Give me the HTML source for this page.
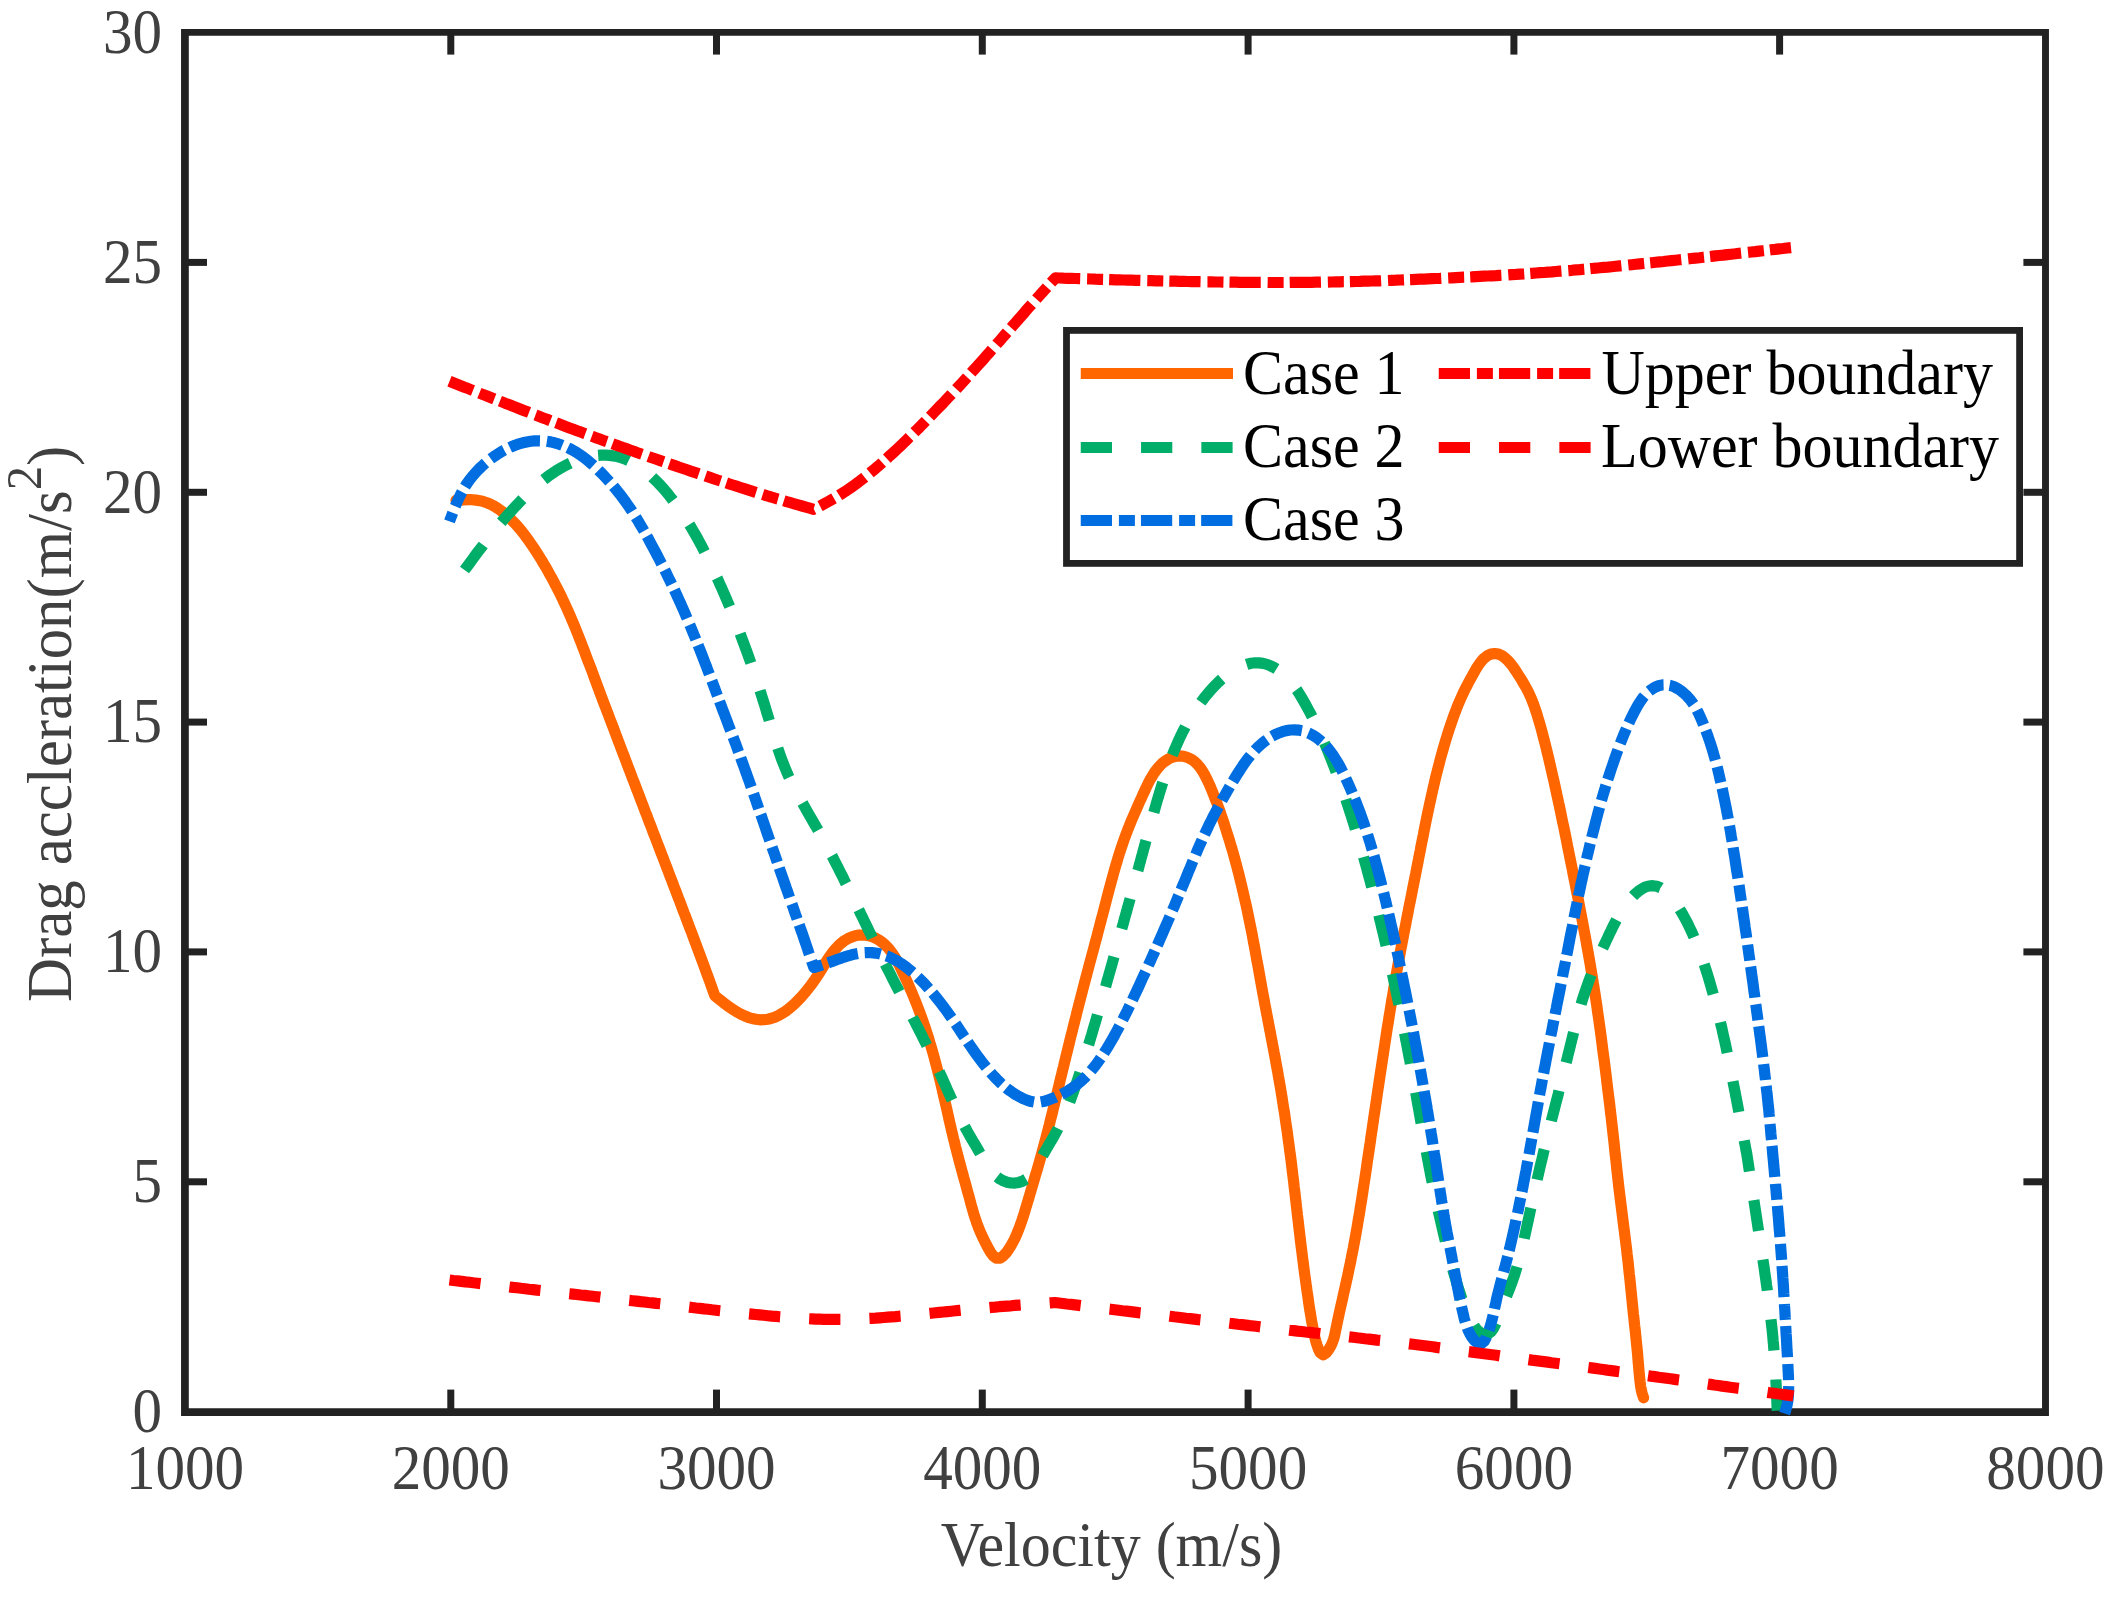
<!DOCTYPE html>
<html lang="en"><head><meta charset="utf-8"><title>Drag acceleration vs velocity</title>
<style>html,body{margin:0;padding:0;background:#fff;}body{width:2120px;height:1603px;overflow:hidden;}</style>
</head><body>
<svg xmlns="http://www.w3.org/2000/svg" width="2120" height="1603" viewBox="0 0 2120 1603" style="display:block">
<rect width="2120" height="1603" fill="#fff"/>
<g stroke="#222222" stroke-width="7" fill="none" stroke-linecap="butt">
<path d="M181.05 29.05H2048.95V1415.9H181.05ZM188.8 35.85V1408.2H2042.05V35.85Z" fill="#222222" fill-rule="evenodd" stroke="none"/>
<line x1="450.8" y1="1411.6" x2="450.8" y2="1389.6"/>
<line x1="450.8" y1="32.6" x2="450.8" y2="54.6"/>
<line x1="716.5" y1="1411.6" x2="716.5" y2="1389.6"/>
<line x1="716.5" y1="32.6" x2="716.5" y2="54.6"/>
<line x1="982.3" y1="1411.6" x2="982.3" y2="1389.6"/>
<line x1="982.3" y1="32.6" x2="982.3" y2="54.6"/>
<line x1="1248.1" y1="1411.6" x2="1248.1" y2="1389.6"/>
<line x1="1248.1" y1="32.6" x2="1248.1" y2="54.6"/>
<line x1="1513.9" y1="1411.6" x2="1513.9" y2="1389.6"/>
<line x1="1513.9" y1="32.6" x2="1513.9" y2="54.6"/>
<line x1="1779.6" y1="1411.6" x2="1779.6" y2="1389.6"/>
<line x1="1779.6" y1="32.6" x2="1779.6" y2="54.6"/>
<line x1="185.0" y1="1181.8" x2="207.0" y2="1181.8"/>
<line x1="2045.4" y1="1181.8" x2="2023.4" y2="1181.8"/>
<line x1="185.0" y1="951.9" x2="207.0" y2="951.9"/>
<line x1="2045.4" y1="951.9" x2="2023.4" y2="951.9"/>
<line x1="185.0" y1="722.1" x2="207.0" y2="722.1"/>
<line x1="2045.4" y1="722.1" x2="2023.4" y2="722.1"/>
<line x1="185.0" y1="492.3" x2="207.0" y2="492.3"/>
<line x1="2045.4" y1="492.3" x2="2023.4" y2="492.3"/>
<line x1="185.0" y1="262.4" x2="207.0" y2="262.4"/>
<line x1="2045.4" y1="262.4" x2="2023.4" y2="262.4"/>
</g>
<g fill="none" stroke-width="11.2" stroke-linejoin="round">
<path d="M456.0 500.4L460.0 500.1L464.0 499.8L468.0 499.6L472.0 499.7L476.0 500.1L479.9 500.7L483.8 501.7L487.6 503.0L491.3 504.6L494.8 506.5L498.2 508.7L501.4 511.0L504.6 513.5L507.6 516.2L510.5 518.9L513.3 521.7L516.1 524.6L518.7 527.7L521.3 530.7L523.8 533.9L526.2 537.1L528.5 540.3L530.8 543.6L533.1 546.9L535.3 550.3L537.4 553.6L539.6 557.0L541.7 560.4L543.7 563.9L545.8 567.3L547.8 570.8L549.7 574.3L551.7 577.8L553.6 581.3L555.4 584.9L557.3 588.4L559.1 592.0L560.9 595.6L562.6 599.2L564.3 602.8L566.0 606.5L567.6 610.1L569.3 613.8L570.9 617.5L572.4 621.1L574.0 624.8L575.5 628.5L577.0 632.3L578.5 636.0L579.9 639.7L581.4 643.4L582.8 647.2L584.3 650.9L585.7 654.7L587.1 658.4L588.5 662.2L590.0 665.9L591.4 669.6L592.8 673.4L594.2 677.2L595.6 680.9L597.0 684.7L598.4 688.4L599.8 692.2L601.2 695.9L602.6 699.7L604.0 703.4L605.5 707.2L606.9 710.9L608.3 714.6L609.7 718.4L611.1 722.1L612.6 725.9L614.0 729.6L615.4 733.4L616.8 737.1L618.2 740.9L619.7 744.6L621.1 748.4L622.5 752.1L624.0 755.8L625.4 759.6L626.8 763.3L628.2 767.1L629.7 770.8L631.1 774.6L632.5 778.3L634.0 782.0L635.4 785.8L636.8 789.5L638.3 793.3L639.7 797.0L641.1 800.7L642.6 804.5L644.0 808.2L645.4 812.0L646.9 815.7L648.3 819.4L649.7 823.2L651.2 826.9L652.6 830.7L654.0 834.4L655.5 838.1L656.9 841.9L658.3 845.6L659.8 849.4L661.2 853.1L662.7 856.8L664.1 860.6L665.5 864.3L667.0 868.1L668.4 871.8L669.8 875.6L671.3 879.3L672.7 883.0L674.1 886.8L675.6 890.5L677.0 894.3L678.4 898.0L679.9 901.7L681.3 905.5L682.7 909.2L684.1 913.0L685.6 916.7L687.0 920.5L688.4 924.2L689.8 927.9L691.3 931.7L692.7 935.4L694.1 939.2L695.5 942.9L696.9 946.7L698.3 950.4L699.7 954.2L701.1 958.0L702.5 961.7L703.9 965.5L705.2 969.2L706.6 973.0L708.0 976.8L709.4 980.5L710.7 984.3L712.1 988.1L713.4 991.8L714.8 995.6L717.9 998.2L721.0 1000.7L724.1 1003.2L727.3 1005.6L730.6 1007.9L733.9 1010.1L737.3 1012.2L740.8 1014.1L744.4 1015.8L748.1 1017.3L752.0 1018.5L755.9 1019.3L759.8 1019.8L763.8 1019.7L767.8 1019.2L771.7 1018.3L775.5 1016.9L779.1 1015.2L782.5 1013.2L785.9 1011.0L789.0 1008.6L792.1 1006.0L795.1 1003.3L797.9 1000.5L800.7 997.6L803.3 994.6L805.9 991.6L808.4 988.4L810.9 985.3L813.2 982.0L815.5 978.8L817.7 975.4L819.9 972.1L822.0 968.7L824.1 965.2L826.2 961.8L828.3 958.5L830.6 955.2L833.0 951.9L835.5 948.9L838.2 945.9L841.2 943.2L844.3 940.8L847.8 938.7L851.4 937.1L855.2 935.8L859.1 935.1L863.1 935.0L867.1 935.4L871.0 936.3L874.7 937.7L878.3 939.6L881.6 941.9L884.6 944.4L887.5 947.2L890.1 950.3L892.5 953.5L894.7 956.8L896.7 960.3L898.6 963.8L900.4 967.4L902.1 971.0L903.8 974.6L905.5 978.2L907.2 981.9L908.8 985.5L910.4 989.2L912.0 992.8L913.5 996.5L915.0 1000.2L916.5 1003.9L918.0 1007.7L919.4 1011.4L920.8 1015.2L922.1 1018.9L923.5 1022.7L924.8 1026.5L926.0 1030.3L927.2 1034.1L928.5 1037.9L929.6 1041.7L930.8 1045.6L931.9 1049.4L933.0 1053.2L934.1 1057.1L935.1 1061.0L936.1 1064.8L937.1 1068.7L938.1 1072.6L939.1 1076.5L940.1 1080.3L941.0 1084.2L941.9 1088.1L942.8 1092.0L943.7 1095.9L944.6 1099.8L945.5 1103.7L946.4 1107.6L947.3 1111.5L948.2 1115.4L949.0 1119.3L949.9 1123.2L950.8 1127.1L951.7 1131.0L952.7 1134.9L953.6 1138.8L954.6 1142.7L955.5 1146.6L956.5 1150.4L957.5 1154.3L958.5 1158.2L959.5 1162.0L960.6 1165.9L961.6 1169.8L962.7 1173.6L963.7 1177.5L964.8 1181.3L965.9 1185.2L966.9 1189.0L968.0 1192.9L969.1 1196.8L970.1 1200.6L971.1 1204.5L972.2 1208.3L973.3 1212.2L974.4 1216.0L975.7 1219.8L977.0 1223.6L978.4 1227.4L979.9 1231.1L981.5 1234.7L983.2 1238.3L985.0 1241.9L986.8 1245.5L988.7 1249.0L990.7 1252.5L993.1 1255.7L996.2 1258.1L1000.1 1258.1L1003.4 1255.8L1006.1 1252.9L1008.4 1249.7L1010.6 1246.3L1012.5 1242.8L1014.4 1239.3L1016.1 1235.6L1017.6 1232.0L1019.1 1228.2L1020.5 1224.5L1021.8 1220.7L1023.1 1216.9L1024.3 1213.1L1025.4 1209.3L1026.6 1205.4L1027.7 1201.6L1028.9 1197.8L1030.0 1193.9L1031.1 1190.1L1032.3 1186.3L1033.4 1182.4L1034.5 1178.6L1035.6 1174.7L1036.8 1170.9L1037.9 1167.1L1039.0 1163.2L1040.1 1159.4L1041.2 1155.5L1042.2 1151.7L1043.3 1147.8L1044.3 1144.0L1045.4 1140.1L1046.4 1136.2L1047.4 1132.3L1048.4 1128.5L1049.4 1124.6L1050.3 1120.7L1051.3 1116.8L1052.3 1113.0L1053.2 1109.1L1054.2 1105.2L1055.1 1101.3L1056.1 1097.4L1057.0 1093.5L1057.9 1089.6L1058.9 1085.7L1059.8 1081.9L1060.7 1078.0L1061.7 1074.1L1062.6 1070.2L1063.6 1066.3L1064.5 1062.4L1065.5 1058.5L1066.4 1054.6L1067.4 1050.8L1068.3 1046.9L1069.3 1043.0L1070.2 1039.1L1071.2 1035.2L1072.2 1031.3L1073.1 1027.5L1074.1 1023.6L1075.1 1019.7L1076.1 1015.8L1077.0 1011.9L1078.0 1008.1L1079.0 1004.2L1080.0 1000.3L1081.0 996.4L1082.0 992.6L1083.0 988.7L1084.0 984.8L1085.0 981.0L1086.1 977.1L1087.1 973.2L1088.1 969.4L1089.1 965.5L1090.2 961.6L1091.2 957.8L1092.2 953.9L1093.3 950.0L1094.3 946.2L1095.3 942.3L1096.4 938.4L1097.4 934.6L1098.4 930.7L1099.4 926.8L1100.4 923.0L1101.4 919.1L1102.5 915.2L1103.5 911.4L1104.5 907.5L1105.5 903.6L1106.5 899.7L1107.5 895.9L1108.5 892.0L1109.5 888.1L1110.6 884.3L1111.6 880.4L1112.7 876.6L1113.7 872.7L1114.8 868.9L1115.9 865.0L1117.1 861.2L1118.2 857.3L1119.4 853.5L1120.6 849.7L1121.9 845.9L1123.2 842.1L1124.5 838.4L1125.9 834.6L1127.3 830.9L1128.8 827.2L1130.3 823.4L1131.8 819.7L1133.4 816.1L1135.0 812.4L1136.6 808.7L1138.2 805.1L1139.8 801.4L1141.5 797.8L1143.1 794.1L1144.8 790.5L1146.5 786.9L1148.2 783.3L1150.1 779.7L1152.1 776.3L1154.2 772.9L1156.6 769.6L1159.1 766.6L1161.9 763.7L1165.0 761.2L1168.4 759.0L1172.0 757.3L1175.9 756.3L1179.8 755.9L1183.8 756.3L1187.6 757.5L1191.2 759.2L1194.5 761.5L1197.4 764.3L1200.0 767.3L1202.2 770.6L1204.3 774.1L1206.1 777.6L1207.9 781.2L1209.5 784.8L1211.1 788.5L1212.6 792.2L1214.1 796.0L1215.5 799.7L1217.0 803.4L1218.4 807.2L1219.8 810.9L1221.1 814.7L1222.4 818.5L1223.7 822.3L1224.9 826.1L1226.1 829.9L1227.3 833.7L1228.5 837.5L1229.7 841.3L1230.8 845.2L1232.0 849.0L1233.1 852.8L1234.2 856.7L1235.2 860.5L1236.3 864.4L1237.3 868.3L1238.3 872.1L1239.3 876.0L1240.2 879.9L1241.2 883.8L1242.1 887.7L1243.0 891.6L1243.9 895.5L1244.8 899.4L1245.7 903.3L1246.6 907.2L1247.4 911.1L1248.2 915.0L1249.0 918.9L1249.8 922.8L1250.6 926.8L1251.4 930.7L1252.2 934.6L1252.9 938.5L1253.6 942.5L1254.4 946.4L1255.1 950.3L1255.8 954.3L1256.5 958.2L1257.2 962.2L1258.0 966.1L1258.7 970.0L1259.4 974.0L1260.1 977.9L1260.8 981.8L1261.5 985.8L1262.2 989.7L1262.9 993.6L1263.7 997.6L1264.4 1001.5L1265.1 1005.4L1265.9 1009.4L1266.6 1013.3L1267.4 1017.2L1268.1 1021.2L1268.9 1025.1L1269.6 1029.0L1270.4 1032.9L1271.1 1036.9L1271.9 1040.8L1272.6 1044.7L1273.4 1048.7L1274.1 1052.6L1274.9 1056.5L1275.6 1060.5L1276.3 1064.4L1277.0 1068.3L1277.8 1072.3L1278.4 1076.2L1279.1 1080.1L1279.8 1084.1L1280.5 1088.0L1281.1 1092.0L1281.8 1095.9L1282.4 1099.9L1283.0 1103.8L1283.6 1107.8L1284.3 1111.7L1284.9 1115.7L1285.4 1119.6L1286.0 1123.6L1286.6 1127.6L1287.2 1131.5L1287.7 1135.5L1288.2 1139.4L1288.8 1143.4L1289.3 1147.4L1289.8 1151.3L1290.4 1155.3L1290.9 1159.3L1291.4 1163.2L1291.9 1167.2L1292.3 1171.2L1292.8 1175.1L1293.3 1179.1L1293.8 1183.1L1294.2 1187.1L1294.7 1191.0L1295.2 1195.0L1295.6 1199.0L1296.1 1203.0L1296.5 1206.9L1297.0 1210.9L1297.4 1214.9L1297.9 1218.9L1298.4 1222.8L1298.8 1226.8L1299.3 1230.8L1299.8 1234.7L1300.2 1238.7L1300.7 1242.7L1301.2 1246.7L1301.7 1250.6L1302.2 1254.6L1302.7 1258.6L1303.2 1262.5L1303.7 1266.5L1304.2 1270.5L1304.7 1274.4L1305.3 1278.4L1305.8 1282.4L1306.4 1286.3L1306.9 1290.3L1307.5 1294.2L1308.1 1298.2L1308.6 1302.2L1309.2 1306.1L1309.8 1310.1L1310.5 1314.0L1311.1 1318.0L1311.8 1321.9L1312.5 1325.8L1313.2 1329.8L1314.0 1333.7L1314.9 1337.6L1315.9 1341.5L1317.1 1345.3L1318.4 1349.1L1320.1 1352.7L1323.2 1354.8L1326.4 1352.6L1328.8 1349.4L1330.9 1345.9L1332.5 1342.3L1333.8 1338.5L1334.8 1334.6L1335.6 1330.7L1336.4 1326.8L1337.2 1322.9L1338.0 1319.0L1338.9 1315.1L1339.7 1311.2L1340.6 1307.3L1341.5 1303.3L1342.4 1299.4L1343.2 1295.6L1344.1 1291.6L1345.0 1287.7L1345.9 1283.8L1346.7 1279.9L1347.6 1276.0L1348.4 1272.1L1349.2 1268.2L1350.1 1264.3L1350.9 1260.4L1351.6 1256.4L1352.4 1252.5L1353.2 1248.6L1353.9 1244.7L1354.7 1240.7L1355.4 1236.8L1356.1 1232.9L1356.8 1228.9L1357.5 1225.0L1358.1 1221.0L1358.8 1217.1L1359.5 1213.1L1360.1 1209.2L1360.7 1205.2L1361.4 1201.3L1362.0 1197.3L1362.6 1193.4L1363.2 1189.4L1363.8 1185.5L1364.4 1181.5L1365.0 1177.6L1365.6 1173.6L1366.2 1169.7L1366.8 1165.7L1367.3 1161.7L1367.9 1157.8L1368.5 1153.8L1369.1 1149.9L1369.7 1145.9L1370.3 1142.0L1370.8 1138.0L1371.4 1134.0L1372.0 1130.1L1372.6 1126.1L1373.2 1122.2L1373.7 1118.2L1374.3 1114.3L1374.9 1110.3L1375.5 1106.3L1376.1 1102.4L1376.7 1098.4L1377.2 1094.5L1377.8 1090.5L1378.4 1086.6L1379.0 1082.6L1379.6 1078.6L1380.2 1074.7L1380.8 1070.7L1381.4 1066.8L1382.0 1062.8L1382.6 1058.9L1383.2 1054.9L1383.8 1051.0L1384.4 1047.0L1385.0 1043.0L1385.6 1039.1L1386.2 1035.1L1386.8 1031.2L1387.4 1027.2L1388.1 1023.3L1388.7 1019.3L1389.3 1015.4L1390.0 1011.4L1390.6 1007.5L1391.3 1003.5L1391.9 999.6L1392.6 995.7L1393.3 991.7L1393.9 987.8L1394.6 983.8L1395.3 979.9L1396.0 975.9L1396.7 972.0L1397.4 968.1L1398.1 964.1L1398.8 960.2L1399.6 956.3L1400.3 952.3L1401.0 948.4L1401.8 944.5L1402.5 940.5L1403.3 936.6L1404.0 932.7L1404.8 928.8L1405.6 924.8L1406.3 920.9L1407.1 917.0L1407.9 913.1L1408.6 909.1L1409.4 905.2L1410.2 901.3L1411.0 897.4L1411.8 893.4L1412.5 889.5L1413.3 885.6L1414.1 881.7L1414.9 877.7L1415.7 873.8L1416.4 869.9L1417.2 866.0L1418.0 862.1L1418.7 858.1L1419.5 854.2L1420.3 850.3L1421.0 846.3L1421.8 842.4L1422.6 838.5L1423.4 834.6L1424.1 830.7L1424.9 826.7L1425.7 822.8L1426.5 818.9L1427.3 815.0L1428.1 811.1L1429.0 807.1L1429.8 803.2L1430.7 799.3L1431.5 795.4L1432.4 791.5L1433.3 787.6L1434.2 783.7L1435.1 779.8L1436.0 775.9L1437.0 772.1L1438.0 768.2L1439.0 764.3L1440.0 760.4L1441.0 756.6L1442.1 752.7L1443.2 748.9L1444.3 745.0L1445.4 741.2L1446.6 737.4L1447.8 733.5L1449.0 729.7L1450.3 725.9L1451.6 722.1L1452.9 718.4L1454.2 714.6L1455.7 710.9L1457.1 707.1L1458.6 703.4L1460.2 699.8L1461.8 696.1L1463.5 692.5L1465.2 688.9L1467.1 685.3L1468.9 681.8L1470.8 678.3L1472.8 674.8L1474.7 671.3L1476.7 667.8L1478.9 664.5L1481.3 661.3L1484.0 658.3L1487.2 655.8L1490.8 654.1L1494.7 653.5L1498.6 654.1L1502.2 655.8L1505.4 658.2L1508.3 661.0L1510.9 664.0L1513.3 667.2L1515.6 670.5L1517.7 673.9L1519.9 677.3L1522.0 680.6L1524.0 684.1L1526.0 687.5L1527.9 691.1L1529.6 694.7L1531.2 698.3L1532.7 702.1L1534.1 705.8L1535.4 709.6L1536.7 713.4L1537.8 717.2L1539.0 721.1L1540.1 724.9L1541.2 728.7L1542.2 732.6L1543.2 736.5L1544.2 740.3L1545.2 744.2L1546.2 748.1L1547.1 752.0L1548.1 755.9L1549.0 759.8L1549.9 763.7L1550.8 767.6L1551.7 771.5L1552.6 775.4L1553.5 779.3L1554.4 783.2L1555.2 787.1L1556.1 791.0L1556.9 794.9L1557.8 798.8L1558.6 802.7L1559.5 806.6L1560.3 810.5L1561.1 814.4L1561.9 818.4L1562.7 822.3L1563.6 826.2L1564.4 830.1L1565.2 834.0L1566.0 838.0L1566.8 841.9L1567.5 845.8L1568.3 849.7L1569.1 853.6L1569.9 857.6L1570.7 861.5L1571.5 865.4L1572.3 869.3L1573.0 873.2L1573.8 877.2L1574.6 881.1L1575.4 885.0L1576.1 888.9L1576.9 892.9L1577.7 896.8L1578.5 900.7L1579.2 904.6L1580.0 908.6L1580.7 912.5L1581.5 916.4L1582.2 920.4L1583.0 924.3L1583.7 928.2L1584.4 932.2L1585.2 936.1L1585.9 940.0L1586.6 944.0L1587.3 947.9L1588.0 951.8L1588.7 955.8L1589.4 959.7L1590.1 963.7L1590.7 967.6L1591.4 971.5L1592.0 975.5L1592.7 979.4L1593.3 983.4L1594.0 987.3L1594.6 991.3L1595.2 995.2L1595.8 999.2L1596.4 1003.2L1597.0 1007.1L1597.5 1011.1L1598.1 1015.0L1598.7 1019.0L1599.2 1022.9L1599.8 1026.9L1600.3 1030.9L1600.9 1034.8L1601.4 1038.8L1601.9 1042.8L1602.4 1046.7L1602.9 1050.7L1603.4 1054.7L1604.0 1058.6L1604.5 1062.6L1605.0 1066.6L1605.5 1070.5L1606.0 1074.5L1606.5 1078.5L1606.9 1082.5L1607.4 1086.4L1607.9 1090.4L1608.4 1094.4L1608.9 1098.3L1609.4 1102.3L1609.9 1106.3L1610.3 1110.3L1610.8 1114.3L1611.3 1118.3L1611.7 1122.3L1612.2 1126.3L1612.6 1130.3L1613.1 1134.3L1613.5 1138.3L1614.0 1142.3L1614.4 1146.3L1614.8 1150.3L1615.2 1154.3L1615.7 1158.3L1616.1 1162.3L1616.5 1166.3L1616.9 1170.3L1617.4 1174.3L1617.8 1178.3L1618.3 1182.3L1618.7 1186.2L1619.2 1190.2L1619.7 1194.2L1620.2 1198.2L1620.7 1202.2L1621.2 1206.2L1621.7 1210.2L1622.2 1214.2L1622.7 1218.2L1623.2 1222.2L1623.7 1226.2L1624.2 1230.1L1624.7 1234.1L1625.2 1238.1L1625.7 1242.1L1626.2 1246.1L1626.7 1250.1L1627.1 1254.1L1627.6 1258.1L1628.1 1262.1L1628.5 1266.1L1628.9 1270.1L1629.3 1274.1L1629.8 1278.1L1630.2 1282.1L1630.6 1286.1L1631.0 1290.1L1631.4 1294.1L1631.8 1298.1L1632.2 1302.1L1632.6 1306.1L1633.0 1310.1L1633.4 1314.1L1633.9 1318.1L1634.3 1322.1L1634.7 1326.1L1635.2 1330.1L1635.6 1334.1L1636.0 1338.1L1636.4 1342.1L1636.8 1346.1L1637.2 1350.1L1637.6 1354.1L1637.9 1358.1L1638.2 1362.1L1638.6 1366.1L1638.9 1370.1L1639.3 1374.1L1639.7 1378.1L1640.1 1382.1L1640.6 1386.1L1641.3 1390.1L1642.3 1394.0L1643.6 1397.8" stroke="#ff6600" stroke-linecap="round"/>
<path d="M464.5 570.0L466.9 566.8L469.3 563.6L471.7 560.4L474.0 557.1L476.4 553.9L478.8 550.7L481.3 547.6L483.7 544.4L486.1 541.2L488.6 538.0L491.0 534.9L493.5 531.7L496.0 528.6L498.6 525.5L501.1 522.4L503.7 519.4L506.3 516.4L509.0 513.4L511.7 510.4L514.4 507.5L517.2 504.6L519.9 501.7L522.7 498.8L525.6 496.0L528.4 493.2L531.3 490.5L534.3 487.8L537.3 485.1L540.3 482.5L543.4 480.0L546.6 477.5L549.8 475.1L553.1 472.8L556.4 470.6L559.8 468.6L563.3 466.6L566.9 464.7L570.5 463.0L574.2 461.4L577.9 460.0L581.7 458.8L585.5 457.7L589.4 456.8L593.4 456.0L597.3 455.5L601.3 455.2L605.3 455.2L609.3 455.4L613.3 455.9L617.2 456.6L621.1 457.7L624.9 459.0L628.5 460.6L632.1 462.4L635.6 464.3L639.0 466.5L642.3 468.8L645.4 471.2L648.5 473.8L651.5 476.4L654.4 479.2L657.3 482.0L660.0 484.9L662.7 487.8L665.4 490.9L667.9 493.9L670.4 497.1L672.9 500.2L675.3 503.4L677.6 506.6L680.0 509.9L682.2 513.2L684.4 516.5L686.6 519.9L688.7 523.3L690.8 526.7L692.8 530.2L694.8 533.6L696.8 537.1L698.7 540.6L700.6 544.2L702.5 547.7L704.3 551.3L706.1 554.8L707.9 558.4L709.6 562.0L711.4 565.6L713.1 569.2L714.8 572.9L716.4 576.5L718.1 580.1L719.7 583.8L721.4 587.4L723.0 591.1L724.6 594.8L726.2 598.5L727.7 602.1L729.3 605.8L730.8 609.5L732.3 613.3L733.7 617.0L735.2 620.7L736.7 624.4L738.1 628.2L739.5 631.9L740.9 635.7L742.3 639.4L743.7 643.2L745.1 646.9L746.5 650.7L747.8 654.4L749.2 658.2L750.5 662.0L751.8 665.8L753.1 669.5L754.4 673.3L755.7 677.1L756.9 680.9L758.2 684.7L759.4 688.5L760.6 692.3L761.8 696.2L763.0 700.0L764.2 703.8L765.4 707.6L766.5 711.5L767.7 715.3L768.9 719.1L770.0 723.0L771.1 726.8L772.3 730.6L773.4 734.5L774.6 738.3L775.8 742.1L777.0 745.9L778.3 749.7L779.6 753.5L780.9 757.3L782.3 761.0L783.8 764.8L785.3 768.5L786.8 772.1L788.4 775.8L790.1 779.4L791.9 783.0L793.6 786.6L795.5 790.2L797.4 793.7L799.3 797.2L801.2 800.7L803.2 804.2L805.1 807.7L807.1 811.2L809.1 814.7L811.1 818.1L813.1 821.6L815.1 825.1L817.1 828.5L819.0 832.0L821.0 835.5L822.9 839.0L824.9 842.5L826.8 846.0L828.7 849.6L830.5 853.1L832.4 856.6L834.2 860.2L836.1 863.8L837.9 867.3L839.7 870.9L841.5 874.5L843.3 878.1L845.0 881.6L846.8 885.2L848.6 888.8L850.3 892.4L852.1 896.0L853.9 899.6L855.6 903.2L857.3 906.8L859.1 910.4L860.8 914.0L862.6 917.6L864.3 921.2L866.1 924.8L867.8 928.4L869.5 932.0L871.3 935.6L873.0 939.2L874.8 942.8L876.5 946.4L878.3 950.0L880.0 953.6L881.8 957.2L883.6 960.8L885.4 964.4L887.2 968.0L889.0 971.5L890.8 975.1L892.6 978.7L894.4 982.2L896.2 985.8L898.1 989.4L899.9 992.9L901.7 996.5L903.6 1000.0L905.4 1003.6L907.3 1007.1L909.1 1010.7L911.0 1014.2L912.8 1017.8L914.7 1021.3L916.5 1024.9L918.3 1028.4L920.1 1032.0L921.9 1035.6L923.7 1039.2L925.5 1042.7L927.3 1046.3L929.0 1049.9L930.8 1053.5L932.5 1057.2L934.2 1060.8L935.9 1064.4L937.6 1068.0L939.2 1071.7L940.9 1075.3L942.5 1079.0L944.2 1082.6L945.8 1086.3L947.4 1089.9L949.1 1093.6L950.7 1097.2L952.4 1100.9L954.0 1104.5L955.7 1108.2L957.3 1111.8L959.1 1115.4L960.8 1119.0L962.6 1122.6L964.5 1126.1L966.4 1129.6L968.3 1133.1L970.3 1136.6L972.3 1140.1L974.4 1143.5L976.4 1146.9L978.4 1150.4L980.4 1153.9L982.4 1157.4L984.4 1160.8L986.4 1164.3L988.6 1167.6L991.1 1170.8L993.7 1173.8L996.6 1176.5L999.8 1178.9L1003.3 1180.8L1007.1 1182.2L1011.0 1183.0L1015.0 1183.1L1018.9 1182.4L1022.7 1181.1L1026.2 1179.1L1029.3 1176.6L1032.0 1173.7L1034.4 1170.5L1036.5 1167.1L1038.5 1163.6L1040.4 1160.1L1042.2 1156.5L1044.1 1153.0L1046.1 1149.5L1048.1 1146.1L1050.1 1142.6L1052.2 1139.2L1054.2 1135.7L1056.1 1132.2L1058.0 1128.7L1059.8 1125.1L1061.5 1121.5L1063.2 1117.9L1064.8 1114.2L1066.4 1110.5L1067.8 1106.8L1069.3 1103.1L1070.7 1099.3L1072.1 1095.6L1073.5 1091.8L1074.8 1088.0L1076.1 1084.2L1077.4 1080.4L1078.7 1076.6L1079.9 1072.8L1081.1 1069.0L1082.3 1065.2L1083.5 1061.4L1084.7 1057.6L1085.9 1053.8L1087.1 1049.9L1088.2 1046.1L1089.4 1042.3L1090.5 1038.4L1091.7 1034.6L1092.8 1030.8L1093.9 1026.9L1095.1 1023.1L1096.2 1019.2L1097.3 1015.4L1098.4 1011.6L1099.6 1007.7L1100.7 1003.9L1101.8 1000.0L1102.9 996.2L1104.0 992.3L1105.1 988.5L1106.2 984.6L1107.2 980.8L1108.3 976.9L1109.4 973.1L1110.5 969.2L1111.6 965.4L1112.7 961.5L1113.7 957.7L1114.8 953.8L1115.9 950.0L1117.0 946.1L1118.0 942.2L1119.1 938.4L1120.2 934.5L1121.2 930.7L1122.3 926.8L1123.4 923.0L1124.4 919.1L1125.5 915.2L1126.6 911.4L1127.6 907.5L1128.7 903.7L1129.8 899.8L1130.8 896.0L1131.9 892.1L1133.0 888.2L1134.0 884.4L1135.1 880.5L1136.2 876.7L1137.2 872.8L1138.3 869.0L1139.3 865.1L1140.4 861.2L1141.4 857.4L1142.5 853.5L1143.5 849.6L1144.6 845.8L1145.6 841.9L1146.7 838.1L1147.7 834.2L1148.8 830.3L1149.9 826.5L1150.9 822.6L1152.0 818.8L1153.1 814.9L1154.2 811.1L1155.3 807.2L1156.4 803.4L1157.5 799.5L1158.7 795.7L1159.8 791.9L1161.0 788.0L1162.2 784.2L1163.4 780.4L1164.6 776.6L1165.9 772.8L1167.2 769.0L1168.5 765.3L1169.9 761.5L1171.3 757.8L1172.8 754.0L1174.3 750.3L1175.9 746.6L1177.5 743.0L1179.1 739.3L1180.8 735.7L1182.6 732.1L1184.4 728.6L1186.3 725.0L1188.3 721.6L1190.3 718.1L1192.4 714.7L1194.6 711.3L1196.8 708.0L1199.1 704.7L1201.5 701.5L1203.9 698.3L1206.4 695.2L1209.0 692.1L1211.6 689.1L1214.4 686.2L1217.2 683.3L1220.0 680.6L1223.0 677.9L1226.1 675.4L1229.4 673.0L1232.7 670.8L1236.1 668.8L1239.7 667.0L1243.4 665.4L1247.2 664.2L1251.1 663.3L1255.1 662.8L1259.1 662.9L1263.0 663.4L1266.9 664.4L1270.6 665.9L1274.2 667.6L1277.6 669.7L1280.9 672.1L1283.9 674.7L1286.8 677.4L1289.5 680.4L1292.1 683.5L1294.5 686.7L1296.8 689.9L1299.0 693.3L1301.1 696.7L1303.1 700.1L1305.1 703.6L1307.0 707.1L1308.9 710.6L1310.8 714.2L1312.6 717.7L1314.4 721.3L1316.2 724.9L1317.9 728.5L1319.6 732.1L1321.3 735.8L1322.9 739.4L1324.5 743.1L1326.1 746.8L1327.6 750.5L1329.1 754.2L1330.6 757.9L1332.1 761.6L1333.6 765.3L1335.0 769.1L1336.4 772.8L1337.8 776.6L1339.2 780.3L1340.5 784.1L1341.9 787.9L1343.2 791.6L1344.5 795.4L1345.8 799.2L1347.0 803.0L1348.3 806.8L1349.5 810.6L1350.8 814.4L1352.0 818.2L1353.2 822.1L1354.4 825.9L1355.5 829.7L1356.7 833.5L1357.9 837.4L1359.0 841.2L1360.1 845.0L1361.2 848.9L1362.3 852.7L1363.4 856.6L1364.5 860.4L1365.6 864.3L1366.7 868.1L1367.7 872.0L1368.7 875.9L1369.8 879.7L1370.8 883.6L1371.8 887.5L1372.8 891.3L1373.8 895.2L1374.8 899.1L1375.8 903.0L1376.8 906.9L1377.7 910.7L1378.7 914.6L1379.6 918.5L1380.6 922.4L1381.5 926.3L1382.4 930.2L1383.4 934.1L1384.3 938.0L1385.2 941.9L1386.1 945.8L1387.0 949.7L1387.9 953.6L1388.8 957.5L1389.6 961.4L1390.5 965.3L1391.4 969.2L1392.2 973.1L1393.1 977.0L1393.9 980.9L1394.8 984.8L1395.6 988.8L1396.4 992.7L1397.2 996.6L1398.1 1000.5L1398.9 1004.4L1399.7 1008.3L1400.4 1012.3L1401.2 1016.2L1402.0 1020.1L1402.8 1024.0L1403.6 1028.0L1404.3 1031.9L1405.1 1035.8L1405.8 1039.8L1406.6 1043.7L1407.3 1047.6L1408.1 1051.6L1408.8 1055.5L1409.6 1059.4L1410.3 1063.4L1411.0 1067.3L1411.8 1071.2L1412.5 1075.2L1413.2 1079.1L1414.0 1083.0L1414.7 1087.0L1415.4 1090.9L1416.1 1094.8L1416.8 1098.8L1417.5 1102.7L1418.2 1106.7L1418.9 1110.6L1419.6 1114.5L1420.3 1118.5L1421.0 1122.4L1421.7 1126.4L1422.4 1130.3L1423.1 1134.2L1423.8 1138.2L1424.5 1142.1L1425.3 1146.1L1426.0 1150.0L1426.7 1153.9L1427.4 1157.9L1428.2 1161.8L1428.9 1165.7L1429.7 1169.7L1430.4 1173.6L1431.2 1177.5L1432.0 1181.4L1432.8 1185.3L1433.6 1189.3L1434.4 1193.2L1435.3 1197.1L1436.1 1201.0L1437.0 1204.9L1437.8 1208.8L1438.7 1212.7L1439.6 1216.6L1440.5 1220.5L1441.4 1224.4L1442.3 1228.3L1443.2 1232.2L1444.1 1236.1L1445.1 1240.0L1446.0 1243.9L1447.0 1247.8L1448.0 1251.7L1449.0 1255.5L1450.0 1259.4L1451.1 1263.3L1452.1 1267.1L1453.2 1271.0L1454.3 1274.8L1455.5 1278.7L1456.6 1282.5L1457.8 1286.3L1459.0 1290.1L1460.3 1293.9L1461.5 1297.7L1462.9 1301.5L1464.3 1305.2L1465.7 1309.0L1467.3 1312.6L1469.0 1316.3L1470.8 1319.9L1472.7 1323.4L1474.8 1326.8L1477.2 1330.0L1480.2 1332.6L1483.8 1334.3L1487.7 1334.1L1490.9 1331.8L1493.3 1328.6L1495.2 1325.0L1496.8 1321.4L1498.2 1317.6L1499.5 1313.8L1500.9 1310.1L1502.4 1306.4L1503.9 1302.7L1505.4 1299.0L1506.9 1295.3L1508.4 1291.5L1509.9 1287.8L1511.3 1284.1L1512.7 1280.3L1514.0 1276.5L1515.2 1272.7L1516.4 1268.9L1517.5 1265.1L1518.6 1261.2L1519.7 1257.4L1520.7 1253.5L1521.6 1249.6L1522.5 1245.7L1523.5 1241.8L1524.3 1237.9L1525.2 1234.0L1526.1 1230.1L1526.9 1226.2L1527.8 1222.3L1528.6 1218.4L1529.5 1214.5L1530.3 1210.5L1531.2 1206.6L1532.0 1202.7L1532.9 1198.8L1533.7 1194.9L1534.6 1191.0L1535.5 1187.1L1536.4 1183.2L1537.2 1179.3L1538.1 1175.4L1539.0 1171.5L1539.9 1167.6L1540.8 1163.7L1541.8 1159.8L1542.7 1155.9L1543.6 1152.0L1544.6 1148.1L1545.5 1144.2L1546.5 1140.3L1547.4 1136.5L1548.4 1132.6L1549.4 1128.7L1550.4 1124.8L1551.3 1120.9L1552.3 1117.1L1553.3 1113.2L1554.3 1109.3L1555.3 1105.4L1556.3 1101.5L1557.3 1097.7L1558.3 1093.8L1559.2 1089.9L1560.2 1086.0L1561.2 1082.2L1562.2 1078.3L1563.2 1074.4L1564.2 1070.5L1565.1 1066.6L1566.1 1062.8L1567.1 1058.9L1568.0 1055.0L1569.0 1051.1L1570.0 1047.2L1570.9 1043.3L1571.9 1039.4L1572.8 1035.6L1573.8 1031.7L1574.7 1027.8L1575.7 1023.9L1576.7 1020.0L1577.7 1016.2L1578.8 1012.3L1579.9 1008.5L1581.0 1004.6L1582.1 1000.8L1583.3 997.0L1584.6 993.1L1585.9 989.4L1587.2 985.6L1588.6 981.8L1590.0 978.1L1591.4 974.4L1592.9 970.6L1594.5 966.9L1596.0 963.3L1597.6 959.6L1599.2 955.9L1600.9 952.3L1602.5 948.6L1604.2 945.0L1605.9 941.4L1607.6 937.8L1609.3 934.1L1611.1 930.5L1612.8 926.9L1614.6 923.4L1616.5 919.8L1618.4 916.3L1620.5 912.9L1622.6 909.5L1624.8 906.2L1627.2 903.0L1629.7 899.9L1632.4 896.9L1635.2 894.0L1638.2 891.4L1641.5 889.1L1645.0 887.2L1648.8 886.0L1652.8 885.7L1656.8 886.3L1660.5 887.7L1663.9 889.9L1666.9 892.5L1669.7 895.3L1672.3 898.4L1674.7 901.6L1677.0 904.9L1679.1 908.2L1681.2 911.7L1683.2 915.1L1685.1 918.6L1687.0 922.2L1688.8 925.8L1690.5 929.4L1692.2 933.0L1693.8 936.7L1695.3 940.4L1696.8 944.1L1698.3 947.8L1699.7 951.5L1701.1 955.3L1702.4 959.1L1703.7 962.9L1705.0 966.7L1706.2 970.5L1707.4 974.3L1708.6 978.1L1709.7 981.9L1710.8 985.8L1711.9 989.6L1713.0 993.5L1714.1 997.3L1715.1 1001.2L1716.1 1005.1L1717.1 1009.0L1718.1 1012.8L1719.1 1016.7L1720.0 1020.6L1720.9 1024.5L1721.9 1028.4L1722.7 1032.3L1723.6 1036.2L1724.5 1040.1L1725.4 1044.0L1726.2 1047.9L1727.0 1051.8L1727.8 1055.8L1728.7 1059.7L1729.5 1063.6L1730.2 1067.5L1731.0 1071.4L1731.8 1075.4L1732.6 1079.3L1733.3 1083.2L1734.1 1087.2L1734.9 1091.1L1735.6 1095.0L1736.4 1098.9L1737.1 1102.9L1737.9 1106.8L1738.6 1110.7L1739.4 1114.7L1740.1 1118.6L1740.8 1122.5L1741.6 1126.5L1742.3 1130.4L1743.1 1134.3L1743.8 1138.3L1744.5 1142.2L1745.3 1146.1L1746.0 1150.1L1746.8 1154.0L1747.4 1158.0L1748.0 1161.9L1748.6 1165.9L1749.2 1169.8L1749.8 1173.8L1750.4 1177.8L1751.0 1181.7L1751.6 1185.7L1752.3 1189.6L1752.9 1193.6L1753.5 1197.6L1754.1 1201.5L1754.7 1205.5L1755.3 1209.5L1755.9 1213.4L1756.5 1217.4L1757.1 1221.3L1757.7 1225.3L1758.3 1229.3L1758.9 1233.2L1759.5 1237.2L1760.1 1241.2L1760.7 1245.1L1761.3 1249.1L1761.9 1253.0L1762.5 1257.0L1763.1 1261.0L1763.7 1264.9L1764.3 1268.9L1764.8 1272.9L1765.4 1276.8L1766.0 1280.8L1766.5 1284.8L1767.1 1288.7L1767.6 1292.7L1768.2 1296.7L1768.7 1300.7L1769.2 1304.6L1769.7 1308.6L1770.2 1312.6L1770.6 1316.6L1771.1 1320.6L1771.5 1324.5L1772.0 1328.5L1772.4 1332.5L1772.8 1336.5L1773.1 1340.5L1773.5 1344.5L1773.8 1348.5L1774.1 1352.5L1774.4 1356.5L1774.7 1360.5L1775.0 1364.5L1775.2 1368.5L1775.5 1372.5L1775.7 1376.5L1775.9 1380.5L1776.1 1384.5L1776.3 1388.5L1776.5 1392.5L1776.7 1396.5L1776.8 1400.5L1777.0 1404.5L1777.1 1408.5L1777.3 1412.5" stroke="#00ae69" stroke-dasharray="31.25 29.05"/>
<path d="M449.5 521.4L450.9 517.6L452.3 513.9L453.7 510.1L455.2 506.4L456.8 502.7L458.4 499.1L460.2 495.4L462.0 491.9L463.9 488.4L466.0 485.0L468.3 481.6L470.7 478.4L473.2 475.3L475.8 472.3L478.6 469.4L481.5 466.6L484.5 463.9L487.5 461.3L490.7 458.9L494.0 456.5L497.3 454.3L500.7 452.2L504.2 450.2L507.8 448.4L511.4 446.7L515.1 445.2L518.9 443.9L522.8 442.8L526.7 442.0L530.7 441.3L534.6 440.9L538.7 440.8L542.7 440.9L546.7 441.3L550.6 441.9L554.5 442.8L558.4 443.9L562.2 445.3L565.9 446.8L569.5 448.5L573.0 450.4L576.5 452.4L579.8 454.6L583.1 456.9L586.3 459.4L589.4 461.9L592.4 464.5L595.4 467.2L598.3 470.0L601.1 472.8L603.9 475.7L606.7 478.7L609.3 481.6L612.0 484.6L614.6 487.7L617.2 490.8L619.7 493.9L622.1 497.1L624.5 500.3L626.8 503.6L629.1 506.9L631.4 510.2L633.5 513.6L635.7 517.0L637.8 520.4L639.8 523.8L641.9 527.3L643.9 530.8L645.8 534.2L647.8 537.7L649.7 541.3L651.6 544.8L653.5 548.3L655.4 551.9L657.2 555.4L659.1 559.0L660.9 562.5L662.8 566.1L664.6 569.7L666.4 573.3L668.1 576.9L669.9 580.5L671.6 584.1L673.4 587.7L675.1 591.4L676.7 595.0L678.4 598.6L680.1 602.3L681.7 606.0L683.3 609.6L684.9 613.3L686.5 617.0L688.1 620.7L689.6 624.4L691.2 628.1L692.7 631.8L694.2 635.5L695.7 639.2L697.2 642.9L698.7 646.7L700.2 650.4L701.6 654.1L703.1 657.9L704.5 661.6L706.0 665.3L707.4 669.1L708.8 672.8L710.2 676.6L711.7 680.3L713.1 684.1L714.5 687.8L715.9 691.6L717.3 695.4L718.7 699.1L720.1 702.9L721.5 706.6L722.9 710.4L724.4 714.1L725.8 717.9L727.2 721.6L728.6 725.4L730.0 729.1L731.5 732.9L732.9 736.6L734.3 740.4L735.7 744.1L737.1 747.9L738.5 751.7L739.9 755.4L741.2 759.2L742.6 763.0L744.0 766.7L745.3 770.5L746.7 774.3L748.0 778.1L749.4 781.8L750.7 785.6L752.0 789.4L753.4 793.2L754.7 797.0L756.0 800.8L757.3 804.6L758.6 808.3L759.9 812.1L761.3 815.9L762.6 819.7L763.9 823.5L765.2 827.3L766.5 831.1L767.1 832.8L766.5 831.1L767.8 834.9L769.1 838.7L770.4 842.5L771.7 846.2L773.0 850.0L774.4 853.8L775.7 857.6L777.0 861.4L778.3 865.2L779.6 869.0L780.9 872.8L782.3 876.6L783.6 880.3L784.9 884.1L786.2 887.9L787.6 891.7L788.9 895.5L790.2 899.3L791.5 903.0L792.9 906.8L794.2 910.6L795.5 914.4L796.9 918.2L798.2 922.0L799.5 925.7L800.8 929.5L802.2 933.3L803.5 937.1L804.8 940.9L806.1 944.7L807.4 948.5L808.6 952.3L809.9 956.1L811.2 959.9L812.5 963.7L813.8 967.5L817.6 966.4L821.4 965.2L825.2 963.9L829.0 962.6L832.8 961.2L836.5 959.8L840.3 958.5L844.1 957.1L847.9 955.9L851.7 954.8L855.6 953.9L859.6 953.2L863.5 952.7L867.5 952.5L871.5 952.6L875.5 953.1L879.5 953.8L883.3 954.8L887.1 956.1L890.8 957.7L894.4 959.5L897.9 961.4L901.3 963.6L904.5 965.9L907.7 968.3L910.8 970.8L913.9 973.5L916.8 976.2L919.7 979.0L922.5 981.8L925.3 984.7L928.0 987.7L930.6 990.7L933.2 993.7L935.8 996.8L938.3 999.9L940.8 1003.1L943.2 1006.3L945.6 1009.5L947.9 1012.7L950.2 1016.0L952.5 1019.3L954.7 1022.6L957.0 1025.9L959.2 1029.3L961.4 1032.6L963.6 1035.9L965.9 1039.3L968.1 1042.6L970.4 1045.9L972.7 1049.2L975.0 1052.5L977.3 1055.7L979.7 1058.9L982.1 1062.1L984.6 1065.3L987.1 1068.4L989.7 1071.5L992.3 1074.5L995.0 1077.4L997.8 1080.3L1000.7 1083.1L1003.7 1085.8L1006.8 1088.3L1009.9 1090.7L1013.2 1093.0L1016.6 1095.2L1020.1 1097.1L1023.7 1098.9L1027.4 1100.4L1031.3 1101.6L1035.2 1102.3L1039.2 1102.3L1043.1 1101.6L1047.0 1100.5L1050.7 1099.1L1054.5 1097.6L1058.1 1095.9L1061.7 1094.2L1065.2 1092.3L1068.7 1090.3L1072.1 1088.1L1075.3 1085.8L1078.5 1083.3L1081.6 1080.7L1084.5 1078.0L1087.3 1075.1L1090.0 1072.2L1092.5 1069.1L1095.0 1066.0L1097.4 1062.7L1099.7 1059.5L1102.0 1056.2L1104.2 1052.8L1106.3 1049.4L1108.4 1046.0L1110.4 1042.5L1112.4 1039.1L1114.4 1035.6L1116.3 1032.0L1118.2 1028.5L1120.0 1025.0L1121.9 1021.4L1123.7 1017.8L1125.5 1014.3L1127.3 1010.7L1129.0 1007.1L1130.8 1003.5L1132.5 999.8L1134.2 996.2L1135.9 992.6L1137.6 989.0L1139.3 985.3L1140.9 981.7L1142.6 978.0L1144.3 974.4L1145.9 970.8L1147.6 967.1L1149.2 963.5L1150.9 959.8L1152.5 956.1L1154.2 952.5L1155.8 948.8L1157.4 945.2L1159.0 941.5L1160.6 937.8L1162.2 934.2L1163.8 930.5L1165.4 926.8L1167.0 923.1L1168.6 919.5L1170.2 915.8L1171.7 912.1L1173.3 908.4L1174.9 904.7L1176.4 901.0L1177.9 897.3L1179.5 893.6L1181.0 889.9L1182.5 886.2L1184.1 882.5L1185.6 878.8L1187.1 875.1L1188.6 871.4L1190.2 867.7L1191.7 864.0L1193.2 860.3L1194.8 856.6L1196.4 852.9L1197.9 849.2L1199.5 845.6L1201.2 841.9L1202.8 838.2L1204.5 834.6L1206.2 831.0L1207.9 827.3L1209.6 823.7L1211.4 820.2L1213.2 816.6L1215.1 813.0L1217.0 809.5L1218.9 806.0L1220.8 802.5L1222.7 798.9L1224.7 795.5L1226.7 792.0L1228.7 788.5L1230.7 785.0L1232.7 781.6L1234.8 778.2L1236.9 774.8L1239.1 771.4L1241.3 768.0L1243.5 764.7L1245.8 761.4L1248.2 758.2L1250.7 755.1L1253.3 752.0L1256.0 749.1L1258.8 746.3L1261.8 743.6L1264.9 741.1L1268.2 738.8L1271.6 736.6L1275.1 734.7L1278.8 733.0L1282.5 731.7L1286.4 730.6L1290.3 730.0L1294.3 729.8L1298.3 730.1L1302.3 730.8L1306.1 732.0L1309.8 733.6L1313.3 735.5L1316.6 737.7L1319.8 740.2L1322.8 742.8L1325.6 745.7L1328.2 748.7L1330.7 751.9L1333.0 755.1L1335.2 758.5L1337.3 761.9L1339.3 765.4L1341.2 768.9L1343.0 772.5L1344.8 776.1L1346.4 779.7L1348.1 783.4L1349.7 787.0L1351.3 790.7L1352.8 794.4L1354.4 798.1L1355.9 801.8L1357.3 805.5L1358.8 809.3L1360.2 813.0L1361.5 816.8L1362.9 820.6L1364.2 824.4L1365.4 828.2L1366.7 832.0L1367.9 835.8L1369.1 839.6L1370.3 843.4L1371.4 847.3L1372.6 851.1L1373.7 855.0L1374.8 858.8L1375.8 862.7L1376.9 866.5L1377.9 870.4L1378.9 874.3L1380.0 878.2L1380.9 882.0L1381.9 885.9L1382.9 889.8L1383.9 893.7L1384.8 897.6L1385.8 901.5L1386.7 905.4L1387.6 909.3L1388.5 913.2L1389.4 917.1L1390.3 921.0L1391.2 924.9L1392.1 928.8L1393.0 932.7L1393.8 936.6L1394.7 940.5L1395.6 944.5L1396.4 948.4L1397.2 952.3L1398.1 956.2L1398.9 960.1L1399.7 964.0L1400.6 968.0L1401.4 971.9L1402.2 975.8L1403.0 979.7L1403.8 983.7L1404.6 987.6L1405.4 991.5L1406.2 995.4L1407.0 999.4L1407.7 1003.3L1408.5 1007.2L1409.3 1011.1L1410.1 1015.1L1410.8 1019.0L1411.6 1022.9L1412.4 1026.9L1413.1 1030.8L1413.9 1034.7L1414.6 1038.7L1415.3 1042.6L1416.1 1046.6L1416.8 1050.5L1417.5 1054.4L1418.3 1058.4L1419.0 1062.3L1419.7 1066.3L1420.4 1070.2L1421.1 1074.1L1421.8 1078.1L1422.5 1082.0L1423.2 1086.0L1423.9 1089.9L1424.6 1093.9L1425.3 1097.8L1426.0 1101.8L1426.7 1105.7L1427.3 1109.7L1428.0 1113.6L1428.6 1117.6L1429.3 1121.5L1429.9 1125.5L1430.6 1129.4L1431.2 1133.4L1431.9 1137.3L1432.5 1141.3L1433.1 1145.2L1433.7 1149.2L1434.3 1153.2L1435.0 1157.1L1435.6 1161.1L1436.2 1165.0L1436.8 1169.0L1437.4 1173.0L1438.0 1176.9L1438.6 1180.9L1439.2 1184.8L1439.8 1188.8L1440.4 1192.8L1441.0 1196.7L1441.6 1200.7L1442.3 1204.6L1442.9 1208.6L1443.6 1212.5L1444.2 1216.5L1444.9 1220.4L1445.6 1224.4L1446.3 1228.3L1447.0 1232.3L1447.8 1236.2L1448.5 1240.1L1449.3 1244.1L1450.1 1248.0L1450.8 1251.9L1451.6 1255.9L1452.3 1259.8L1453.1 1263.7L1453.8 1267.7L1454.6 1271.6L1455.3 1275.5L1456.1 1279.5L1456.8 1283.4L1457.6 1287.3L1458.4 1291.3L1459.1 1295.2L1459.9 1299.1L1460.7 1303.1L1461.6 1307.0L1462.5 1310.9L1463.4 1314.8L1464.3 1318.7L1465.4 1322.5L1466.7 1326.3L1468.1 1330.1L1469.8 1333.7L1471.8 1337.1L1474.3 1340.3L1477.4 1342.8L1481.2 1343.7L1484.3 1341.2L1486.1 1337.7L1487.6 1334.0L1489.0 1330.2L1490.2 1326.4L1491.3 1322.5L1492.3 1318.7L1493.2 1314.8L1494.1 1310.8L1494.9 1306.9L1495.8 1303.0L1496.6 1299.1L1497.5 1295.2L1498.5 1291.3L1499.5 1287.4L1500.5 1283.5L1501.5 1279.7L1502.6 1275.8L1503.6 1271.9L1504.7 1268.1L1505.7 1264.2L1506.7 1260.3L1507.7 1256.4L1508.6 1252.5L1509.6 1248.7L1510.5 1244.8L1511.4 1240.9L1512.3 1237.0L1513.2 1233.1L1514.1 1229.1L1514.9 1225.2L1515.8 1221.3L1516.6 1217.4L1517.5 1213.5L1518.3 1209.6L1519.1 1205.6L1519.9 1201.7L1520.7 1197.8L1521.5 1193.9L1522.3 1189.9L1523.1 1186.0L1523.8 1182.1L1524.6 1178.1L1525.3 1174.2L1526.1 1170.3L1526.8 1166.3L1527.5 1162.4L1528.3 1158.4L1529.0 1154.5L1529.7 1150.6L1530.4 1146.6L1531.1 1142.7L1531.8 1138.7L1532.5 1134.8L1533.2 1130.8L1533.9 1126.9L1534.6 1123.0L1535.3 1119.0L1536.0 1115.1L1536.7 1111.1L1537.4 1107.2L1538.1 1103.2L1538.8 1099.3L1539.5 1095.4L1540.2 1091.4L1541.0 1087.5L1541.7 1083.5L1542.4 1079.6L1543.1 1075.7L1543.9 1071.7L1544.6 1067.8L1545.4 1063.8L1546.1 1059.9L1546.9 1056.0L1547.6 1052.0L1548.4 1048.1L1549.2 1044.2L1549.9 1040.2L1550.7 1036.3L1551.5 1032.4L1552.3 1028.5L1553.0 1024.5L1553.8 1020.6L1554.6 1016.7L1555.4 1012.7L1556.2 1008.8L1556.9 1004.9L1557.7 1000.9L1558.5 997.0L1559.3 993.1L1560.1 989.2L1560.8 985.2L1561.6 981.3L1562.4 977.4L1563.1 973.4L1563.9 969.5L1564.7 965.6L1565.5 961.6L1566.2 957.7L1567.0 953.8L1567.8 949.8L1568.5 945.9L1569.3 942.0L1570.0 938.0L1570.8 934.1L1571.6 930.2L1572.4 926.3L1573.1 922.3L1573.9 918.4L1574.7 914.5L1575.5 910.5L1576.3 906.6L1577.1 902.7L1577.9 898.8L1578.7 894.8L1579.6 890.9L1580.4 887.0L1581.2 883.1L1582.1 879.2L1582.9 875.3L1583.8 871.4L1584.7 867.4L1585.6 863.5L1586.4 859.6L1587.3 855.7L1588.3 851.8L1589.2 847.9L1590.1 844.0L1591.1 840.1L1592.0 836.3L1593.0 832.4L1594.0 828.5L1595.0 824.6L1596.0 820.7L1597.0 816.9L1598.0 813.0L1599.1 809.1L1600.1 805.3L1601.2 801.4L1602.3 797.5L1603.4 793.7L1604.6 789.9L1605.7 786.0L1606.9 782.2L1608.1 778.4L1609.4 774.6L1610.6 770.8L1611.9 767.0L1613.2 763.2L1614.5 759.4L1615.8 755.6L1617.2 751.8L1618.6 748.1L1620.0 744.3L1621.4 740.6L1622.9 736.9L1624.4 733.2L1626.0 729.5L1627.6 725.8L1629.2 722.2L1630.9 718.5L1632.7 714.9L1634.5 711.4L1636.4 707.8L1638.4 704.4L1640.6 701.0L1642.9 697.7L1645.5 694.7L1648.3 691.9L1651.5 689.4L1654.9 687.3L1658.6 685.8L1662.5 684.9L1666.5 684.8L1670.4 685.5L1674.2 686.8L1677.8 688.7L1681.1 690.9L1684.2 693.5L1687.1 696.2L1689.8 699.2L1692.2 702.4L1694.5 705.7L1696.5 709.1L1698.3 712.7L1700.0 716.3L1701.6 720.0L1703.2 723.7L1704.6 727.4L1706.1 731.2L1707.5 734.9L1708.8 738.7L1710.1 742.5L1711.3 746.3L1712.5 750.1L1713.6 754.0L1714.7 757.8L1715.8 761.7L1716.8 765.6L1717.8 769.4L1718.7 773.3L1719.6 777.2L1720.5 781.1L1721.4 785.0L1722.3 789.0L1723.1 792.9L1723.9 796.8L1724.7 800.7L1725.5 804.7L1726.3 808.6L1727.0 812.5L1727.8 816.5L1728.5 820.4L1729.2 824.3L1729.9 828.3L1730.6 832.2L1731.2 836.2L1731.9 840.1L1732.6 844.1L1733.2 848.0L1733.8 852.0L1734.5 855.9L1735.1 859.9L1735.7 863.9L1736.3 867.8L1736.9 871.8L1737.6 875.7L1738.2 879.7L1738.8 883.7L1739.4 887.6L1739.9 891.6L1740.5 895.5L1741.1 899.5L1741.7 903.5L1742.3 907.4L1742.9 911.4L1743.4 915.4L1744.0 919.3L1744.6 923.3L1745.1 927.3L1745.7 931.2L1746.3 935.2L1746.8 939.2L1747.4 943.1L1747.9 947.1L1748.5 951.1L1749.0 955.0L1749.6 959.0L1750.1 963.0L1750.7 966.9L1751.2 970.9L1751.8 974.9L1752.3 978.8L1752.9 982.8L1753.4 986.8L1753.9 990.7L1754.5 994.7L1755.0 998.7L1755.5 1002.7L1756.1 1006.6L1756.6 1010.6L1757.2 1014.6L1757.7 1018.5L1758.2 1022.5L1758.8 1026.5L1759.3 1030.4L1759.8 1034.4L1760.4 1038.4L1760.9 1042.4L1761.4 1046.3L1761.9 1050.3L1762.4 1054.3L1762.9 1058.2L1763.4 1062.2L1763.9 1066.2L1764.4 1070.2L1764.8 1074.2L1765.3 1078.1L1765.7 1082.1L1766.2 1086.1L1766.6 1090.1L1767.1 1094.1L1767.5 1098.0L1767.9 1102.0L1768.3 1106.0L1768.8 1110.0L1769.1 1114.0L1769.5 1118.0L1769.8 1122.0L1770.2 1126.0L1770.6 1130.0L1770.9 1134.0L1771.3 1138.0L1771.7 1141.9L1772.0 1145.9L1772.4 1149.9L1772.7 1153.9L1773.1 1157.9L1773.5 1161.9L1773.8 1165.9L1774.2 1169.9L1774.5 1173.9L1774.9 1177.9L1775.3 1181.9L1775.6 1185.9L1776.0 1189.9L1776.3 1193.9L1776.7 1197.9L1777.0 1201.8L1777.4 1205.8L1777.7 1209.8L1778.0 1213.8L1778.4 1217.8L1778.7 1221.8L1779.0 1225.8L1779.3 1229.8L1779.7 1233.8L1780.0 1237.8L1780.3 1241.8L1780.6 1245.8L1780.9 1249.8L1781.2 1253.8L1781.5 1257.8L1781.8 1261.8L1782.0 1265.8L1782.3 1269.8L1782.6 1273.8L1782.8 1277.8L1783.1 1281.8L1783.4 1285.8L1783.6 1289.8L1783.8 1293.8L1784.1 1297.8L1784.3 1301.8L1784.5 1305.8L1784.8 1309.8L1785.0 1313.8L1785.2 1317.8L1785.5 1321.8L1785.7 1325.8L1785.9 1329.8L1786.1 1333.8L1786.4 1337.8L1786.6 1341.8L1786.8 1345.8L1787.0 1349.9L1787.3 1353.9L1787.5 1357.9L1787.7 1361.9L1787.9 1365.9L1788.1 1369.9L1788.3 1373.9L1788.5 1377.9L1788.6 1381.9L1788.7 1385.9L1788.6 1389.9L1788.5 1393.9L1788.2 1397.9L1787.7 1401.9L1786.9 1405.8L1785.8 1409.7L1784.6 1413.5" stroke="#006ee0" stroke-dasharray="31.25 6.9 16 6.05" stroke-dashoffset="22"/>
<path d="M449.5 381.2L453.2 382.7L457.0 384.2L460.7 385.7L464.4 387.2L468.2 388.6L471.9 390.1L475.7 391.6L479.4 393.1L483.1 394.6L486.9 396.0L490.6 397.5L494.4 399.0L498.1 400.4L501.9 401.9L505.6 403.4L509.4 404.8L513.1 406.3L516.9 407.7L520.6 409.2L524.4 410.7L528.1 412.1L531.9 413.6L535.6 415.0L539.4 416.5L543.1 417.9L546.9 419.3L550.6 420.8L554.4 422.2L558.2 423.6L561.9 425.0L565.7 426.5L569.5 427.9L573.2 429.3L577.0 430.7L580.8 432.1L584.5 433.5L588.3 434.9L592.1 436.3L595.8 437.7L599.6 439.1L603.4 440.5L607.2 441.8L611.0 443.2L614.7 444.6L618.5 445.9L622.3 447.3L626.1 448.6L629.9 450.0L633.7 451.3L637.5 452.7L641.3 454.0L645.1 455.3L648.9 456.7L652.7 458.0L656.5 459.3L660.3 460.6L664.1 461.9L667.9 463.3L671.7 464.6L675.5 465.9L679.3 467.2L683.1 468.5L686.9 469.8L690.7 471.1L694.5 472.3L698.3 473.6L702.2 474.9L706.0 476.2L709.8 477.4L713.6 478.7L717.4 480.0L721.2 481.2L725.1 482.5L728.9 483.8L732.7 485.0L736.5 486.2L740.4 487.5L744.2 488.7L748.0 489.9L751.9 491.1L755.7 492.3L759.5 493.5L763.4 494.7L767.2 495.9L771.1 497.0L774.9 498.2L778.8 499.3L782.7 500.4L786.5 501.6L790.4 502.7L794.3 503.8L798.1 504.9L802.0 506.0L805.9 507.1L809.7 508.2L813.6 509.3L817.2 507.5L820.7 505.7L824.3 503.8L827.8 501.9L831.3 499.9L834.8 497.9L838.2 495.9L841.6 493.7L845.0 491.6L848.3 489.4L851.6 487.1L854.9 484.7L858.1 482.4L861.3 479.9L864.5 477.5L867.6 475.0L870.7 472.4L873.8 469.9L876.8 467.3L879.9 464.7L882.9 462.0L885.9 459.4L888.8 456.7L891.8 454.0L894.7 451.3L897.7 448.5L900.6 445.8L903.5 443.0L906.4 440.2L909.2 437.4L912.1 434.6L914.9 431.8L917.8 429.0L920.6 426.1L923.4 423.3L926.2 420.4L929.1 417.6L931.9 414.7L934.6 411.8L937.4 408.9L940.2 406.0L943.0 403.2L945.7 400.3L948.5 397.3L951.3 394.4L954.0 391.5L956.7 388.6L959.5 385.6L962.2 382.7L964.9 379.7L967.6 376.8L970.3 373.8L973.0 370.8L975.7 367.9L978.3 364.9L981.0 361.9L983.7 358.9L986.3 355.9L989.0 352.9L991.6 349.9L994.3 346.9L996.9 343.9L999.6 340.9L1002.2 337.9L1004.9 334.8L1007.5 331.8L1010.1 328.8L1012.8 325.8L1015.4 322.8L1018.1 319.8L1020.7 316.8L1023.4 313.8L1026.0 310.7L1028.6 307.7L1031.3 304.7L1034.0 301.7L1036.6 298.7L1039.3 295.8L1042.0 292.8L1044.6 289.8L1047.3 286.8L1050.0 283.8L1052.7 280.9L1055.4 277.9L1059.4 278.0L1063.4 278.2L1067.4 278.3L1071.4 278.4L1075.4 278.5L1079.4 278.7L1083.4 278.8L1087.4 278.9L1091.4 279.0L1095.4 279.2L1099.4 279.3L1103.5 279.4L1107.5 279.5L1111.5 279.6L1115.5 279.8L1119.5 279.9L1123.5 280.0L1127.5 280.1L1131.5 280.2L1135.5 280.3L1139.5 280.4L1143.5 280.5L1147.5 280.6L1151.5 280.7L1155.5 280.8L1159.5 280.9L1163.5 281.0L1167.5 281.1L1171.5 281.2L1175.5 281.2L1179.5 281.3L1183.6 281.4L1187.6 281.5L1191.6 281.6L1195.6 281.6L1199.6 281.7L1203.6 281.8L1207.6 281.8L1211.6 281.9L1215.6 282.0L1219.6 282.0L1223.6 282.1L1227.6 282.1L1231.6 282.2L1235.6 282.2L1239.6 282.3L1243.6 282.3L1247.6 282.3L1251.7 282.4L1255.7 282.4L1259.7 282.4L1263.7 282.4L1267.7 282.5L1271.7 282.5L1275.7 282.5L1279.7 282.5L1283.7 282.5L1287.7 282.5L1291.7 282.4L1295.7 282.4L1299.7 282.4L1303.7 282.4L1307.7 282.3L1311.7 282.3L1315.8 282.2L1319.8 282.2L1323.8 282.1L1327.8 282.1L1331.8 282.0L1335.8 281.9L1339.8 281.8L1343.8 281.7L1347.8 281.7L1351.8 281.6L1355.8 281.5L1359.8 281.4L1363.8 281.2L1367.8 281.1L1371.8 281.0L1375.8 280.9L1379.8 280.8L1383.8 280.6L1387.8 280.5L1391.8 280.3L1395.8 280.2L1399.9 280.0L1403.9 279.9L1407.9 279.7L1411.9 279.6L1415.9 279.4L1419.9 279.2L1423.9 279.1L1427.9 278.9L1431.9 278.7L1435.9 278.5L1439.9 278.4L1443.9 278.2L1447.9 278.0L1451.9 277.8L1455.9 277.6L1459.9 277.4L1463.9 277.2L1467.9 277.1L1471.9 276.9L1475.9 276.6L1479.9 276.4L1483.9 276.2L1487.9 276.0L1491.9 275.8L1495.9 275.6L1499.9 275.3L1503.9 275.1L1507.9 274.9L1511.9 274.6L1515.9 274.4L1519.9 274.1L1523.9 273.9L1527.9 273.6L1531.9 273.3L1535.9 273.0L1539.9 272.7L1543.9 272.5L1547.9 272.2L1551.9 271.9L1555.9 271.5L1559.8 271.2L1563.8 270.9L1567.8 270.6L1571.8 270.3L1575.8 269.9L1579.8 269.6L1583.8 269.2L1587.8 268.9L1591.8 268.5L1595.8 268.2L1599.8 267.8L1603.8 267.4L1607.7 267.1L1611.7 266.7L1615.7 266.3L1619.7 265.9L1623.7 265.5L1627.7 265.1L1631.7 264.7L1635.7 264.3L1639.6 263.9L1643.6 263.5L1647.6 263.1L1651.6 262.7L1655.6 262.3L1659.6 261.9L1663.6 261.5L1667.5 261.0L1671.5 260.6L1675.5 260.2L1679.5 259.8L1683.5 259.4L1687.5 258.9L1691.4 258.5L1695.4 258.1L1699.4 257.7L1703.4 257.2L1707.4 256.8L1711.4 256.4L1715.3 255.9L1719.3 255.5L1723.3 255.1L1727.3 254.6L1731.3 254.2L1735.3 253.8L1739.2 253.3L1743.2 252.9L1747.2 252.4L1751.2 252.0L1755.2 251.6L1759.1 251.1L1763.1 250.7L1767.1 250.3L1771.1 249.8L1775.1 249.4L1779.1 248.9L1783.0 248.5L1787.0 248.0L1791.0 247.6" stroke="#ff0000" stroke-dasharray="31.25 6.9 16 6.05" stroke-dashoffset="6"/>
<path d="M449.5 1280.0L453.5 1280.5L457.5 1280.9L461.4 1281.4L465.4 1281.9L469.4 1282.3L473.4 1282.8L477.3 1283.2L481.3 1283.7L485.3 1284.2L489.3 1284.6L493.2 1285.1L497.2 1285.5L501.2 1286.0L505.2 1286.5L509.1 1286.9L513.1 1287.4L517.1 1287.8L521.1 1288.3L525.0 1288.7L529.0 1289.2L533.0 1289.6L537.0 1290.1L540.9 1290.5L544.9 1291.0L548.9 1291.4L552.9 1291.9L556.9 1292.3L560.8 1292.8L564.8 1293.2L568.8 1293.7L572.8 1294.1L576.7 1294.5L580.7 1295.0L584.7 1295.4L588.7 1295.9L592.7 1296.3L596.6 1296.7L600.6 1297.2L604.6 1297.6L608.6 1298.1L612.5 1298.5L616.5 1298.9L620.5 1299.4L624.5 1299.8L628.5 1300.3L632.4 1300.7L636.4 1301.1L640.4 1301.6L644.4 1302.0L648.3 1302.5L652.3 1302.9L656.3 1303.4L660.3 1303.8L664.3 1304.3L668.2 1304.8L672.2 1305.2L676.2 1305.7L680.2 1306.1L684.1 1306.6L688.1 1307.0L692.1 1307.5L696.1 1308.0L700.0 1308.4L704.0 1308.9L708.0 1309.3L712.0 1309.8L715.9 1310.2L719.9 1310.7L723.9 1311.1L727.9 1311.5L731.9 1312.0L735.8 1312.4L739.8 1312.8L743.8 1313.3L747.8 1313.7L751.8 1314.1L755.7 1314.5L759.7 1314.9L763.7 1315.3L767.7 1315.7L771.7 1316.1L775.7 1316.4L779.6 1316.8L783.6 1317.1L787.6 1317.4L791.6 1317.7L795.6 1318.0L799.6 1318.3L803.6 1318.5L807.6 1318.7L811.6 1318.9L815.6 1319.1L819.6 1319.2L823.6 1319.3L827.6 1319.4L831.6 1319.4L835.6 1319.4L839.6 1319.4L843.6 1319.4L847.6 1319.3L851.6 1319.2L855.6 1319.1L859.6 1318.9L863.6 1318.7L867.6 1318.5L871.6 1318.3L875.6 1318.1L879.6 1317.8L883.6 1317.5L887.6 1317.2L891.6 1316.9L895.5 1316.6L899.5 1316.2L903.5 1315.9L907.5 1315.5L911.5 1315.2L915.5 1314.8L919.5 1314.4L923.4 1314.0L927.4 1313.6L931.4 1313.2L935.4 1312.8L939.4 1312.4L943.3 1312.0L947.3 1311.6L951.3 1311.2L955.3 1310.8L959.3 1310.4L963.3 1310.0L967.2 1309.6L971.2 1309.3L975.2 1308.9L979.2 1308.5L983.2 1308.1L987.2 1307.8L991.2 1307.4L995.1 1307.1L999.1 1306.7L1003.1 1306.4L1007.1 1306.1L1011.1 1305.8L1015.1 1305.4L1019.1 1305.1L1023.1 1304.8L1027.1 1304.5L1031.0 1304.2L1035.0 1303.9L1039.0 1303.6L1043.0 1303.4L1047.0 1303.1L1051.0 1302.8L1055.0 1302.5L1059.0 1303.0L1062.9 1303.5L1066.9 1304.0L1070.9 1304.4L1074.9 1304.9L1078.8 1305.4L1082.8 1305.9L1086.8 1306.4L1090.8 1306.8L1094.7 1307.3L1098.7 1307.8L1102.7 1308.3L1106.7 1308.8L1110.6 1309.2L1114.6 1309.7L1118.6 1310.2L1122.5 1310.7L1126.5 1311.1L1130.5 1311.6L1134.5 1312.1L1138.4 1312.6L1142.4 1313.0L1146.4 1313.5L1150.4 1314.0L1154.3 1314.4L1158.3 1314.9L1162.3 1315.4L1166.3 1315.8L1170.2 1316.3L1174.2 1316.8L1178.2 1317.2L1182.2 1317.7L1186.1 1318.2L1190.1 1318.6L1194.1 1319.1L1198.1 1319.6L1202.0 1320.0L1206.0 1320.5L1210.0 1320.9L1214.0 1321.4L1217.9 1321.9L1221.9 1322.3L1225.9 1322.8L1229.9 1323.3L1233.8 1323.7L1237.8 1324.2L1241.8 1324.6L1245.8 1325.1L1249.8 1325.6L1253.7 1326.0L1257.7 1326.5L1261.7 1327.0L1265.7 1327.4L1269.6 1327.9L1273.6 1328.3L1277.6 1328.8L1281.6 1329.2L1285.5 1329.7L1289.5 1330.2L1293.5 1330.6L1297.5 1331.1L1301.4 1331.5L1305.4 1332.0L1309.4 1332.4L1313.4 1332.9L1317.3 1333.3L1321.3 1333.8L1325.3 1334.2L1329.3 1334.7L1333.3 1335.1L1337.2 1335.6L1341.2 1336.0L1345.2 1336.4L1349.2 1336.9L1353.1 1337.3L1357.1 1337.8L1361.1 1338.2L1365.1 1338.7L1369.1 1339.1L1373.0 1339.6L1377.0 1340.1L1381.0 1340.5L1385.0 1341.0L1388.9 1341.4L1392.9 1341.9L1396.9 1342.4L1400.9 1342.9L1404.8 1343.3L1408.8 1343.8L1412.8 1344.3L1416.7 1344.8L1420.7 1345.3L1424.7 1345.8L1428.7 1346.3L1432.6 1346.8L1436.6 1347.4L1440.6 1347.9L1444.5 1348.4L1448.5 1348.9L1452.5 1349.4L1456.4 1350.0L1460.4 1350.5L1464.4 1351.0L1468.3 1351.6L1472.3 1352.1L1476.3 1352.7L1480.2 1353.2L1484.2 1353.7L1488.2 1354.3L1492.1 1354.8L1496.1 1355.3L1500.1 1355.9L1504.0 1356.4L1508.0 1356.9L1512.0 1357.4L1515.9 1358.0L1519.9 1358.5L1523.9 1359.0L1527.8 1359.5L1531.8 1360.1L1535.8 1360.6L1539.7 1361.1L1543.7 1361.6L1547.7 1362.1L1551.6 1362.7L1555.6 1363.2L1559.6 1363.7L1563.5 1364.2L1567.5 1364.8L1571.5 1365.3L1575.5 1365.8L1579.4 1366.3L1583.4 1366.9L1587.4 1367.4L1591.3 1367.9L1595.3 1368.4L1599.3 1369.0L1603.2 1369.5L1607.2 1370.1L1611.2 1370.6L1615.1 1371.1L1619.1 1371.7L1623.1 1372.2L1627.0 1372.8L1631.0 1373.3L1634.9 1373.9L1638.9 1374.4L1642.9 1375.0L1646.8 1375.5L1650.8 1376.1L1654.8 1376.6L1658.7 1377.2L1662.7 1377.7L1666.7 1378.3L1670.6 1378.8L1674.6 1379.4L1678.5 1380.0L1682.5 1380.5L1686.5 1381.1L1690.4 1381.6L1694.4 1382.2L1698.4 1382.7L1702.3 1383.3L1706.3 1383.8L1710.3 1384.4L1714.2 1385.0L1718.2 1385.5L1722.1 1386.1L1726.1 1386.6L1730.1 1387.2L1734.0 1387.7L1738.0 1388.3L1742.0 1388.8L1745.9 1389.4L1749.9 1389.9L1753.9 1390.5L1757.8 1391.0L1761.8 1391.6L1765.8 1392.1L1769.7 1392.7L1773.7 1393.2L1777.6 1393.8L1781.6 1394.3L1785.6 1394.9L1789.5 1395.4L1793.5 1396.0" stroke="#ff0000" stroke-dasharray="31.25 29.05"/>
</g>
<g font-family="'Liberation Serif', 'Times New Roman', serif" font-size="60" fill="#404040">
<text transform="translate(185.0 1489.3) scale(0.985 1.05)" text-anchor="middle">1000</text>
<text transform="translate(450.8 1489.3) scale(0.985 1.05)" text-anchor="middle">2000</text>
<text transform="translate(716.5 1489.3) scale(0.985 1.05)" text-anchor="middle">3000</text>
<text transform="translate(982.3 1489.3) scale(0.985 1.05)" text-anchor="middle">4000</text>
<text transform="translate(1248.1 1489.3) scale(0.985 1.05)" text-anchor="middle">5000</text>
<text transform="translate(1513.9 1489.3) scale(0.985 1.05)" text-anchor="middle">6000</text>
<text transform="translate(1779.6 1489.3) scale(0.985 1.05)" text-anchor="middle">7000</text>
<text transform="translate(2045.4 1489.3) scale(0.985 1.05)" text-anchor="middle">8000</text>
<text transform="translate(162.0 1431.9) scale(0.985 1.05)" text-anchor="end">0</text>
<text transform="translate(162.0 1202.1) scale(0.985 1.05)" text-anchor="end">5</text>
<text transform="translate(162.0 972.2) scale(0.985 1.05)" text-anchor="end">10</text>
<text transform="translate(162.0 742.4) scale(0.985 1.05)" text-anchor="end">15</text>
<text transform="translate(162.0 512.6) scale(0.985 1.05)" text-anchor="end">20</text>
<text transform="translate(162.0 282.7) scale(0.985 1.05)" text-anchor="end">25</text>
<text transform="translate(162.0 52.9) scale(0.985 1.05)" text-anchor="end">30</text>
<text transform="translate(1111.5 1565.5) scale(1 1.05)" text-anchor="middle">Velocity (m/s)</text>
<text transform="translate(71 1002) rotate(-90) scale(1.014 1.05)">Drag accleration(m/s<tspan font-size="48" dy="-29">2</tspan><tspan dy="29">)</tspan></text>
</g>
<rect x="1066.5" y="330.4" width="953.0999999999999" height="233.0" fill="#fff" stroke="#222222" stroke-width="6.8"/>
<g fill="none" stroke-width="11.2">
<path d="M1080.75 373.5H1233" stroke="#ff6600"/>
<path d="M1080.75 447.5H1233" stroke="#00ae69" stroke-dasharray="31.25 29.05"/>
<path d="M1080.75 520.5H1233" stroke="#006ee0" stroke-dasharray="31.25 6.9 16 6.05"/>
<path d="M1438.75 373.5H1591.25" stroke="#ff0000" stroke-dasharray="31.25 6.9 16 6.05"/>
<path d="M1438.75 447.5H1591.25" stroke="#ff0000" stroke-dasharray="31.25 29.05"/>
</g>
<g font-family="'Liberation Serif', 'Times New Roman', serif" font-size="60" fill="#000">
<text transform="translate(1243.0 394.0) scale(1 1.05)" text-anchor="start">Case 1</text>
<text transform="translate(1243.0 467.0) scale(1 1.05)" text-anchor="start">Case 2</text>
<text transform="translate(1243.0 540.0) scale(1 1.05)" text-anchor="start">Case 3</text>
<text transform="translate(1601.5 394.0) scale(1 1.05)" text-anchor="start">Upper boundary</text>
<text transform="translate(1601.0 467.0) scale(1 1.05)" text-anchor="start">Lower boundary</text>
</g>
</svg>
</body></html>
